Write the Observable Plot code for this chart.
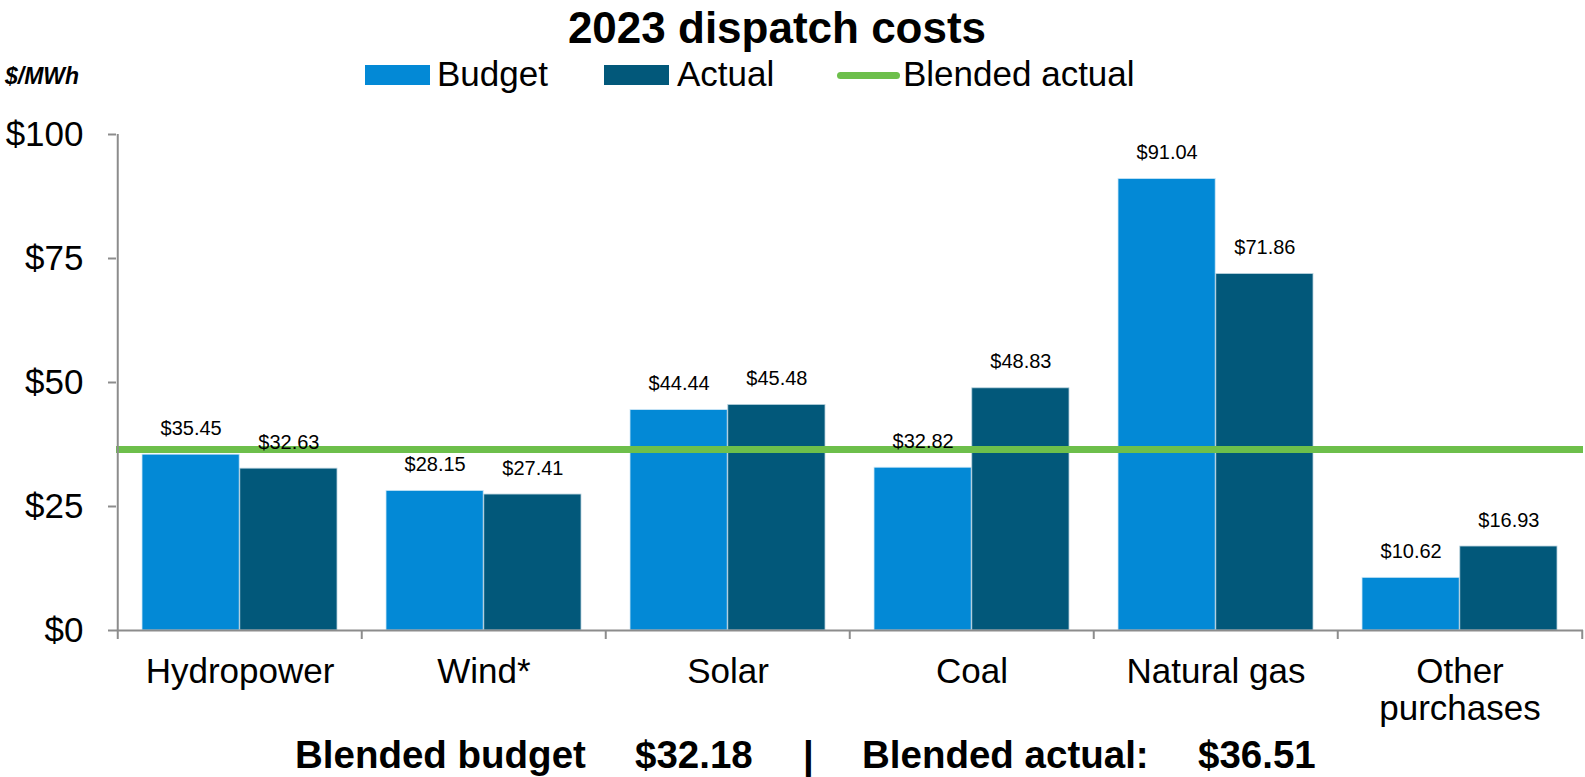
<!DOCTYPE html>
<html>
<head>
<meta charset="utf-8">
<script src="https://cdn.jsdelivr.net/npm/d3@7"></script>
<script src="https://cdn.jsdelivr.net/npm/@observablehq/plot@0.6"></script>
<style>
  html, body { margin: 0; padding: 0; background: #fff; }
  #wrap { position: relative; width: 1585px; height: 777px; font-family: "Liberation Sans", Arial, sans-serif; color: #000; overflow: hidden; }
  #chart { position: absolute; left: 0; top: 0; }
  .abs { position: absolute; white-space: pre; line-height: 1; }
  #title { left: 0; width: 1554px; text-align: center; top: 3px; font-size: 44px; font-weight: bold; line-height: 1.12; }
  #unit { left: 5px; top: 65px; font-size: 23px; font-weight: bold; font-style: italic; }
  .sw { position: absolute; height: 20px; }
  .lg { position: absolute; font-size: 35px; top: 56px; }
  .cap { position: absolute; top: 736px; font-size: 38.5px; font-weight: bold; white-space: pre; line-height: 1; }
</style>
</head>
<body>
<div id="wrap">
  <div id="chart"></div>
  <div id="title" class="abs"></div>
  <div id="unit" class="abs">$/MWh</div>
  <div id="legend"></div>
  <div id="caption"></div>
</div>
<script>
// ---- data ----
const categories = ["Hydropower", "Wind*", "Solar", "Coal", "Natural gas", "Other purchases"];
const categoryLabels = ["Hydropower", "Wind*", "Solar", "Coal", "Natural gas", "Other\npurchases"];
const budget = [35.45, 28.15, 44.44, 32.82, 91.04, 10.62];
const actual = [32.63, 27.41, 45.48, 48.83, 71.86, 16.93];
const blendedBudget = 32.18;
const blendedActual = 36.51;
const yTicks = [0, 25, 50, 75, 100];
const seriesNames = ["Budget", "Actual", "Blended actual"];
const titleText = "2023 dispatch costs";
const captionParts = ["Blended budget", "$" + blendedBudget.toFixed(2), "|", "Blended actual:", "$" + blendedActual.toFixed(2)];

// ---- style ----
const colBudget = "#0389d6";
const colActual = "#02587a";
const colGreen = "#6dbf4b";
const axisGray = "#8c8c8c";

const W = 1585, H = 777;
const mL = 116, mR = 2, mT = 134, mB = 147;
const pInner = 0.2, pOuter = 0.1;
const step = (W - mL - mR) / (categories.length - pInner + 2 * pOuter);
const bw = step * (1 - pInner);

const budgetData = categories.map((c, i) => ({category: c, value: budget[i]}));
const actualData = categories.map((c, i) => ({category: c, value: actual[i]}));
const fmt = v => "$" + v.toFixed(2);
const labelOf = c => categoryLabels[categories.indexOf(c)];

const plot = Plot.plot({
  width: W,
  height: H,
  marginLeft: mL,
  marginRight: mR,
  marginTop: mT,
  marginBottom: mB,
  style: {fontFamily: "'Liberation Sans', Arial, sans-serif", background: "#fff", overflow: "visible"},
  x: {type: "band", domain: categories, paddingInner: pInner, paddingOuter: pOuter, label: null},
  y: {domain: [0, 100], label: null},
  marks: [
    Plot.barY(budgetData, {x: "category", y: "value", fill: colBudget, insetRight: bw / 2, stroke: "#cfe8f7", strokeWidth: 0.8}),
    Plot.barY(actualData, {x: "category", y: "value", fill: colActual, insetLeft: bw / 2, stroke: "#b9d3de", strokeWidth: 0.8}),
    Plot.ruleY([blendedActual], {stroke: colGreen, strokeWidth: 7}),
    Plot.text(budgetData, {x: "category", y: "value", text: d => fmt(d.value), dx: -bw / 4, dy: -20, lineAnchor: "bottom", fontSize: 20, fill: "#000"}),
    Plot.text(actualData, {x: "category", y: "value", text: d => fmt(d.value), dx: bw / 4, dy: -20, lineAnchor: "bottom", fontSize: 20, fill: "#000"}),
    Plot.ruleY([0], {stroke: axisGray, strokeWidth: 2}),
    Plot.ruleX([categories[0]], {x: d => d, y1: 0, y2: 100, dx: -step / 2, stroke: axisGray, strokeWidth: 2}),
    Plot.axisX({tickSize: 9, tickFormat: () => "", label: null, dx: -step / 2, stroke: axisGray, strokeWidth: 2, strokeOpacity: 1}),
    Plot.axisX([categories[categories.length - 1]], {tickSize: 9, tickFormat: () => "", label: null, dx: step / 2, stroke: axisGray, strokeWidth: 2, strokeOpacity: 1}),
    Plot.axisX({tickSize: 0, tickPadding: 25, tickFormat: labelOf, label: null, fontSize: 35, lineHeight: 1.086, fill: "#000"}),
    Plot.axisY({ticks: yTicks, tickSize: 8, tickPadding: 25, tickFormat: d => "$" + d, label: null, fontSize: 35, fill: "#000", stroke: axisGray, strokeWidth: 2, strokeOpacity: 1})
  ]
});
document.getElementById("chart").appendChild(plot);

// ---- title, legend, caption ----
document.getElementById("title").textContent = titleText;
const legend = document.getElementById("legend");
const items = [
  {name: seriesNames[0], kind: "box", color: colBudget, x: 365, w: 65, tx: 437},
  {name: seriesNames[1], kind: "box", color: colActual, x: 604, w: 65, tx: 677},
  {name: seriesNames[2], kind: "line", color: colGreen, x: 837, w: 63, tx: 903}
];
for (const it of items) {
  const s = document.createElement("div");
  s.className = "sw";
  s.style.left = it.x + "px";
  s.style.width = it.w + "px";
  s.style.background = it.color;
  if (it.kind === "box") { s.style.top = "65px"; s.style.height = "20px"; }
  else { s.style.top = "72px"; s.style.height = "7px"; s.style.borderRadius = "4px"; }
  legend.appendChild(s);
  const t = document.createElement("div");
  t.className = "lg abs";
  t.style.left = it.tx + "px";
  t.textContent = it.name;
  legend.appendChild(t);
}
const capLefts = [295, 635, 803, 862, 1198];
const cap = document.getElementById("caption");
captionParts.forEach((p, i) => {
  const d = document.createElement("div");
  d.className = "cap";
  d.style.left = capLefts[i] + "px";
  d.textContent = p;
  cap.appendChild(d);
});
</script>
</body>
</html>
